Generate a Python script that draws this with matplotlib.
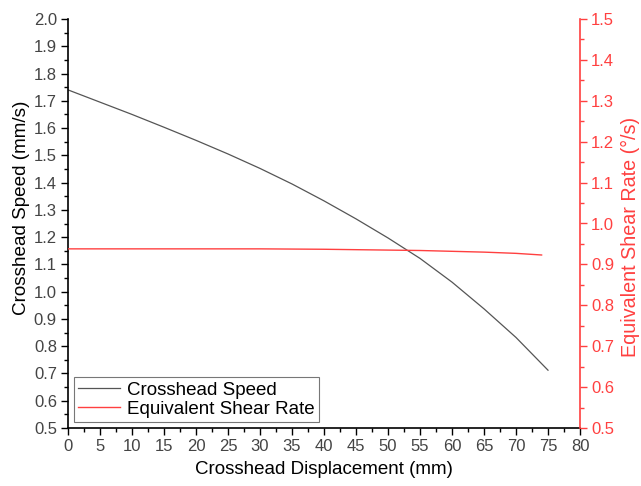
import matplotlib
matplotlib.use("Agg")
import matplotlib.pyplot as plt
from matplotlib.ticker import MultipleLocator, FormatStrFormatter

plt.rcParams["font.family"] = ["Liberation Sans", "DejaVu Sans"]

# crosshead displacement (mm) vs. speed (mm/s)
disp = [0, 5, 10, 15, 20, 25, 30, 35, 40, 45, 50, 55, 60, 65, 70, 75]
speed = [1.740, 1.695, 1.650, 1.603, 1.555, 1.505, 1.452, 1.395, 1.333,
         1.267, 1.197, 1.122, 1.035, 0.937, 0.832, 0.712]

# equivalent shear rate (deg/s)
disp_rate = [0, 10, 20, 30, 40, 50, 55, 60, 65, 70, 74]
shear_rate = [0.938, 0.938, 0.938, 0.938, 0.937, 0.935, 0.934, 0.932,
              0.930, 0.927, 0.923]

RED = "#ff4040"
GREY = "#444444"

fig = plt.figure(figsize=(6.41, 4.86), dpi=100)
ax = fig.add_axes([68 / 641, 58 / 486, 512 / 641, 409 / 486])
ax2 = ax.twinx()

l1, = ax.plot(disp, speed, color="#555555", lw=0.9, label="Crosshead Speed")
l2, = ax2.plot(disp_rate, shear_rate, color=RED, lw=1.0,
               label="Equivalent Shear Rate")

ax.set_xlim(0, 80)
ax.set_ylim(0.5, 2.0)
ax2.set_ylim(0.5, 1.5)
ax.xaxis.set_major_locator(MultipleLocator(5))
ax.xaxis.set_minor_locator(MultipleLocator(2.5))
for a in (ax, ax2):
    a.yaxis.set_major_locator(MultipleLocator(0.1))
    a.yaxis.set_minor_locator(MultipleLocator(0.05))
    a.yaxis.set_major_formatter(FormatStrFormatter("%.1f"))
    a.spines["top"].set_visible(False)

ax.spines["right"].set_visible(False)
ax2.spines["left"].set_visible(False)
ax2.spines["bottom"].set_visible(False)
ax2.spines["right"].set_color(RED)
ax2.spines["right"].set_linewidth(1.2)
ax.spines["left"].set_linewidth(1.2)
ax.spines["bottom"].set_linewidth(1.2)

ax.tick_params(which="major", length=5, width=1, labelsize=12,
               labelcolor=GREY, pad=3)
ax.tick_params(which="minor", length=3, width=1)
ax2.tick_params(which="major", length=5, width=1, labelsize=12,
                colors=RED, pad=3)
ax2.tick_params(which="minor", length=3, width=1, colors=RED)

ax.set_xlabel("Crosshead Displacement (mm)", fontsize=13.5, labelpad=5)
ax.set_ylabel("Crosshead Speed (mm/s)", fontsize=13.6, labelpad=2.5)
ax2.set_ylabel("Equivalent Shear Rate (°/s)", fontsize=14.2, color=RED,
               labelpad=4.5)
ax.yaxis.label.set_y(0.538)
ax2.yaxis.label.set_y(0.467)

leg = ax.legend(handles=[l1, l2], loc="lower left", fontsize=13.5,
                frameon=True, fancybox=False, edgecolor="#555555",
                borderaxespad=0.3, handlelength=2.2, handletextpad=0.4,
                borderpad=0.25, labelspacing=0.1)
leg.get_frame().set_linewidth(0.8)

fig.savefig("out.png", dpi=100)
